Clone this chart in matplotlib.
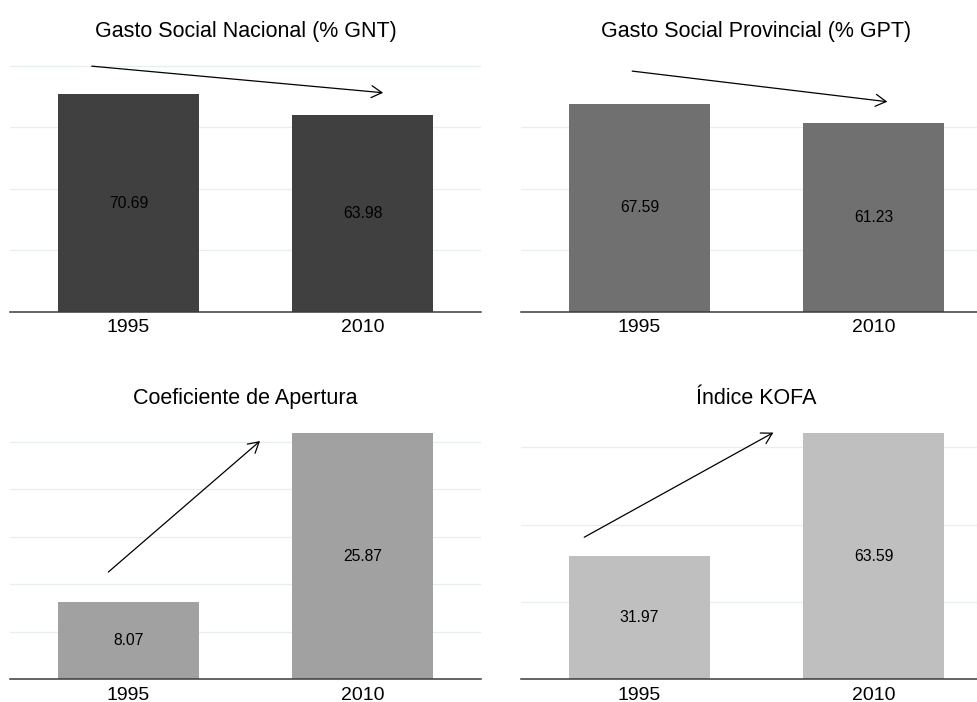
import matplotlib
matplotlib.use("Agg")
import matplotlib.pyplot as plt
from matplotlib.patches import FancyArrowPatch

plt.rcParams['font.family'] = ['Liberation Sans', 'DejaVu Sans']

years = ["1995", "2010"]
titles = ["Gasto Social Nacional (% GNT)", "Gasto Social Provincial (% GPT)",
          "Coeficiente de Apertura", "Índice KOFA"]
gasto_nacional = [70.69, 63.98]
gasto_provincial = [67.59, 61.23]
coef_apertura = [8.07, 25.87]
indice_kofa = [31.97, 63.59]
series = [gasto_nacional, gasto_provincial, coef_apertura, indice_kofa]
colors = ["#404040", "#707070", "#A1A1A1", "#BFBFBF"]

# arrow endpoints (x in category index, y in data units)
arrow_start = [(-0.157, 79.85), (-0.031, 78.15), (-0.086, 11.26), (-0.236, 36.7)]
arrow_end = [(1.088, 71.2), (1.059, 68.2), (0.562, 25.05), (0.572, 63.8)]
grid_ticks = [[20, 40, 60, 80], [20, 40, 60], [5, 10, 15, 20, 25], [20, 40, 60]]
ylims = [83.9, 83.8, 27.16, 66.8]

fig = plt.figure(figsize=(9.77, 7.02), dpi=100)
W, H = 977, 702
positions = [(10, 53.7), (521, 53.7), (10, 421), (521, 421)]
aw, ah = 471, 258

for i in range(4):
    x0, ytop = positions[i]
    ax = fig.add_axes([x0 / W, (H - ytop - ah) / H, aw / W, ah / H])
    ax.set_xlim(-0.506, 1.506)
    ax.set_ylim(0, ylims[i])
    ax.set_yticks(grid_ticks[i])
    ax.yaxis.grid(True, color="#E6EEEE", linewidth=0.9)
    ax.set_axisbelow(True)
    ax.tick_params(axis='y', left=False, labelleft=False)
    ax.tick_params(axis='x', bottom=False, labelsize=14, pad=2, colors='black')
    for s in ['top', 'left', 'right']:
        ax.spines[s].set_visible(False)
    ax.spines['bottom'].set_color('#3a3a3a')
    ax.spines['bottom'].set_linewidth(1.1)
    ax.spines['bottom'].set_zorder(5)
    xs = list(range(len(years)))
    ax.bar(xs, series[i], width=0.6, color=colors[i], zorder=2)
    ax.set_xticks(xs)
    ax.set_xticklabels(years)
    for x, v in zip(xs, series[i]):
        ax.text(x, v / 2, f"{v:.2f}", ha='center', va='center', fontsize=11.3, color='black', zorder=3)
    ax.set_title(titles[i], fontsize=15.5, pad=12)
    arr = FancyArrowPatch(arrow_start[i], arrow_end[i],
                          arrowstyle='->,head_length=7.5,head_width=4.3',
                          mutation_scale=1, color='black', linewidth=0.9,
                          shrinkA=0, shrinkB=0, zorder=4, clip_on=False)
    ax.add_patch(arr)

fig.savefig("out.png", dpi=100)
